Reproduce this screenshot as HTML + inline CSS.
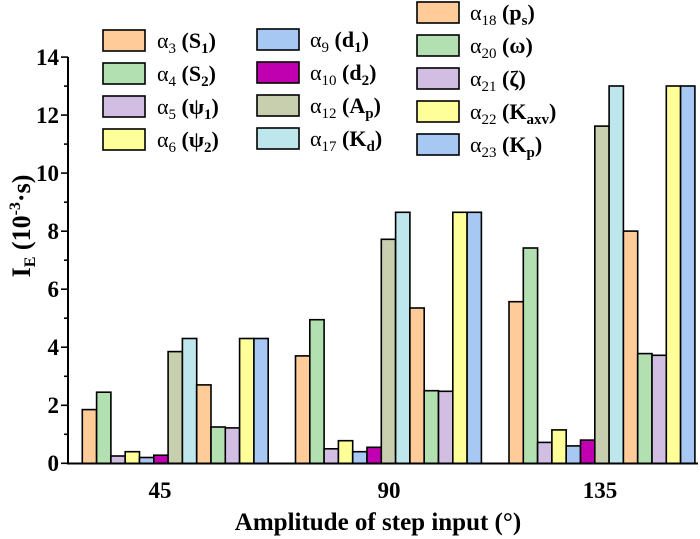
<!DOCTYPE html>
<html><head><meta charset="utf-8"><style>
html,body{margin:0;padding:0;background:#fff;}
svg{display:block;font-family:"Liberation Serif",serif;font-weight:bold;}
.a{fill:#FFCC99}.b{fill:#B2E0B0}.c{fill:#D2BEE2}.d{fill:#FFFF99}.e{fill:#A8C8F4}.f{fill:#C000B0}.g{fill:#C8CFAE}.h{fill:#BDE7EC}
</style></head><body>
<svg width="700" height="539" viewBox="0 0 700 539" xmlns="http://www.w3.org/2000/svg">
<g stroke="#000" stroke-width="1.6">
<rect class="a" x="82.3" y="409.6" width="14.3" height="53.7"/>
<rect class="b" x="96.6" y="392.2" width="14.3" height="71.1"/>
<rect class="c" x="110.9" y="456.0" width="14.3" height="7.3"/>
<rect class="d" x="125.2" y="451.7" width="14.3" height="11.6"/>
<rect class="e" x="139.5" y="457.5" width="14.3" height="5.8"/>
<rect class="f" x="153.8" y="455.2" width="14.3" height="8.1"/>
<rect class="g" x="168.1" y="351.6" width="14.3" height="111.7"/>
<rect class="h" x="182.4" y="338.5" width="14.3" height="124.8"/>
<rect class="a" x="196.7" y="384.9" width="14.3" height="78.4"/>
<rect class="b" x="211.0" y="427.0" width="14.3" height="36.3"/>
<rect class="c" x="225.3" y="427.9" width="14.3" height="35.4"/>
<rect class="d" x="239.6" y="338.5" width="14.3" height="124.8"/>
<rect class="e" x="253.9" y="338.5" width="14.3" height="124.8"/>

<rect class="a" x="295.5" y="355.9" width="14.3" height="107.4"/>
<rect class="b" x="309.8" y="319.7" width="14.3" height="143.6"/>
<rect class="c" x="324.1" y="448.8" width="14.3" height="14.5"/>
<rect class="d" x="338.4" y="440.7" width="14.3" height="22.6"/>
<rect class="e" x="352.7" y="451.7" width="14.3" height="11.6"/>
<rect class="f" x="367.0" y="447.3" width="14.3" height="16.0"/>
<rect class="g" x="381.3" y="239.3" width="14.3" height="224.0"/>
<rect class="h" x="395.6" y="212.3" width="14.3" height="251.0"/>
<rect class="a" x="409.9" y="308.0" width="14.3" height="155.3"/>
<rect class="b" x="424.2" y="390.7" width="14.3" height="72.6"/>
<rect class="c" x="438.5" y="391.3" width="14.3" height="72.0"/>
<rect class="d" x="452.8" y="212.3" width="14.3" height="251.0"/>
<rect class="e" x="467.1" y="212.3" width="14.3" height="251.0"/>

<rect class="a" x="509.0" y="301.7" width="14.3" height="161.6"/>
<rect class="b" x="523.3" y="248.0" width="14.3" height="215.3"/>
<rect class="c" x="537.6" y="442.4" width="14.3" height="20.9"/>
<rect class="d" x="551.9" y="429.9" width="14.3" height="33.4"/>
<rect class="e" x="566.2" y="445.9" width="14.3" height="17.4"/>
<rect class="f" x="580.5" y="440.1" width="14.3" height="23.2"/>
<rect class="g" x="594.8" y="126.1" width="14.3" height="337.2"/>
<rect class="h" x="609.1" y="86.0" width="14.3" height="377.3"/>
<rect class="a" x="623.4" y="231.1" width="14.3" height="232.2"/>
<rect class="b" x="637.7" y="353.6" width="14.3" height="109.7"/>
<rect class="c" x="652.0" y="355.3" width="14.3" height="108.0"/>
<rect class="d" x="666.3" y="86.0" width="14.3" height="377.3"/>
<rect class="e" x="680.6" y="86.0" width="14.3" height="377.3"/>
</g>
<line x1="68" y1="57" x2="68" y2="464" stroke="#000" stroke-width="2"/>
<line x1="67" y1="463.5" x2="698" y2="463.5" stroke="#000" stroke-width="2"/>
<g stroke="#000" stroke-width="1.6">
<line x1="61" y1="463.3" x2="68" y2="463.3"/><line x1="64" y1="434.3" x2="68" y2="434.3"/>
<line x1="61" y1="405.3" x2="68" y2="405.3"/><line x1="64" y1="376.3" x2="68" y2="376.3"/>
<line x1="61" y1="347.2" x2="68" y2="347.2"/><line x1="64" y1="318.2" x2="68" y2="318.2"/>
<line x1="61" y1="289.2" x2="68" y2="289.2"/><line x1="64" y1="260.2" x2="68" y2="260.2"/>
<line x1="61" y1="231.2" x2="68" y2="231.2"/><line x1="64" y1="202.2" x2="68" y2="202.2"/>
<line x1="61" y1="173.1" x2="68" y2="173.1"/><line x1="64" y1="144.1" x2="68" y2="144.1"/>
<line x1="61" y1="115.1" x2="68" y2="115.1"/><line x1="64" y1="86.1" x2="68" y2="86.1"/>
<line x1="61" y1="57.1" x2="68" y2="57.1"/>
</g>
<g font-size="23" text-anchor="end">
<text x="59" y="471">0</text><text x="59" y="413">2</text><text x="59" y="355">4</text>
<text x="59" y="297">6</text><text x="59" y="239">8</text><text x="59" y="181">10</text>
<text x="59" y="123">12</text><text x="59" y="65">14</text>
</g>
<g font-size="23" text-anchor="middle">
<text x="160" y="498">45</text><text x="389" y="498">90</text><text x="600" y="498">135</text>
</g>
<text x="378" y="530" font-size="25" text-anchor="middle">Amplitude of step input (°)</text>
<text transform="translate(30,226) rotate(-90)" font-size="26" text-anchor="middle">I<tspan font-size="16" dy="5">E</tspan><tspan dy="-5"> (10</tspan><tspan font-size="16" dy="-10">-3</tspan><tspan dy="10">·s)</tspan></text>

<g stroke="#000" stroke-width="1.6">
<rect class="a" x="103" y="30" width="42" height="21"/>
<rect class="b" x="103" y="63" width="42" height="21"/>
<rect class="c" x="103" y="96" width="42" height="21"/>
<rect class="d" x="103" y="129" width="42" height="21"/>
<rect class="e" x="257" y="29" width="42" height="21"/>
<rect class="f" x="257" y="62" width="42" height="21"/>
<rect class="g" x="257" y="95" width="42" height="21"/>
<rect class="h" x="257" y="128" width="42" height="21"/>
<rect class="a" x="417" y="2" width="42" height="21"/>
<rect class="b" x="417" y="35" width="42" height="21"/>
<rect class="c" x="417" y="68" width="42" height="21"/>
<rect class="d" x="417" y="101" width="42" height="21"/>
<rect class="e" x="417" y="134" width="42" height="21"/>
</g>
<g font-size="22" xml:space="preserve">
<text x="157" y="48"><tspan font-weight="normal">α</tspan><tspan font-size="15" dy="5" font-weight="normal">3</tspan><tspan dy="-5">  (S</tspan><tspan font-size="15" dy="5">1</tspan><tspan dy="-5">)</tspan></text>
<text x="157" y="81"><tspan font-weight="normal">α</tspan><tspan font-size="15" dy="5" font-weight="normal">4</tspan><tspan dy="-5">  (S</tspan><tspan font-size="15" dy="5">2</tspan><tspan dy="-5">)</tspan></text>
<text x="157" y="114"><tspan font-weight="normal">α</tspan><tspan font-size="15" dy="5" font-weight="normal">5</tspan><tspan dy="-5">  (ψ</tspan><tspan font-size="15" dy="5">1</tspan><tspan dy="-5">)</tspan></text>
<text x="157" y="147"><tspan font-weight="normal">α</tspan><tspan font-size="15" dy="5" font-weight="normal">6</tspan><tspan dy="-5">  (ψ</tspan><tspan font-size="15" dy="5">2</tspan><tspan dy="-5">)</tspan></text>
<text x="310" y="47"><tspan font-weight="normal">α</tspan><tspan font-size="15" dy="5" font-weight="normal">9</tspan><tspan dy="-5">  (d</tspan><tspan font-size="15" dy="5">1</tspan><tspan dy="-5">)</tspan></text>
<text x="310" y="80"><tspan font-weight="normal">α</tspan><tspan font-size="15" dy="5" font-weight="normal">10</tspan><tspan dy="-5"> (d</tspan><tspan font-size="15" dy="5">2</tspan><tspan dy="-5">)</tspan></text>
<text x="310" y="113"><tspan font-weight="normal">α</tspan><tspan font-size="15" dy="5" font-weight="normal">12</tspan><tspan dy="-5"> (A</tspan><tspan font-size="15" dy="5">p</tspan><tspan dy="-5">)</tspan></text>
<text x="310" y="146"><tspan font-weight="normal">α</tspan><tspan font-size="15" dy="5" font-weight="normal">17</tspan><tspan dy="-5"> (K</tspan><tspan font-size="15" dy="5">d</tspan><tspan dy="-5">)</tspan></text>
<text x="470" y="20"><tspan font-weight="normal">α</tspan><tspan font-size="15" dy="5" font-weight="normal">18</tspan><tspan dy="-5"> (p</tspan><tspan font-size="15" dy="5">s</tspan><tspan dy="-5">)</tspan></text>
<text x="470" y="53"><tspan font-weight="normal">α</tspan><tspan font-size="15" dy="5" font-weight="normal">20</tspan><tspan dy="-5"> (ω)</tspan></text>
<text x="470" y="86"><tspan font-weight="normal">α</tspan><tspan font-size="15" dy="5" font-weight="normal">21</tspan><tspan dy="-5"> (ζ)</tspan></text>
<text x="470" y="119"><tspan font-weight="normal">α</tspan><tspan font-size="15" dy="5" font-weight="normal">22</tspan><tspan dy="-5"> (K</tspan><tspan font-size="15" dy="5">axv</tspan><tspan dy="-5">)</tspan></text>
<text x="470" y="152"><tspan font-weight="normal">α</tspan><tspan font-size="15" dy="5" font-weight="normal">23</tspan><tspan dy="-5"> (K</tspan><tspan font-size="15" dy="5">p</tspan><tspan dy="-5">)</tspan></text>
</g>
</svg>
</body></html>
